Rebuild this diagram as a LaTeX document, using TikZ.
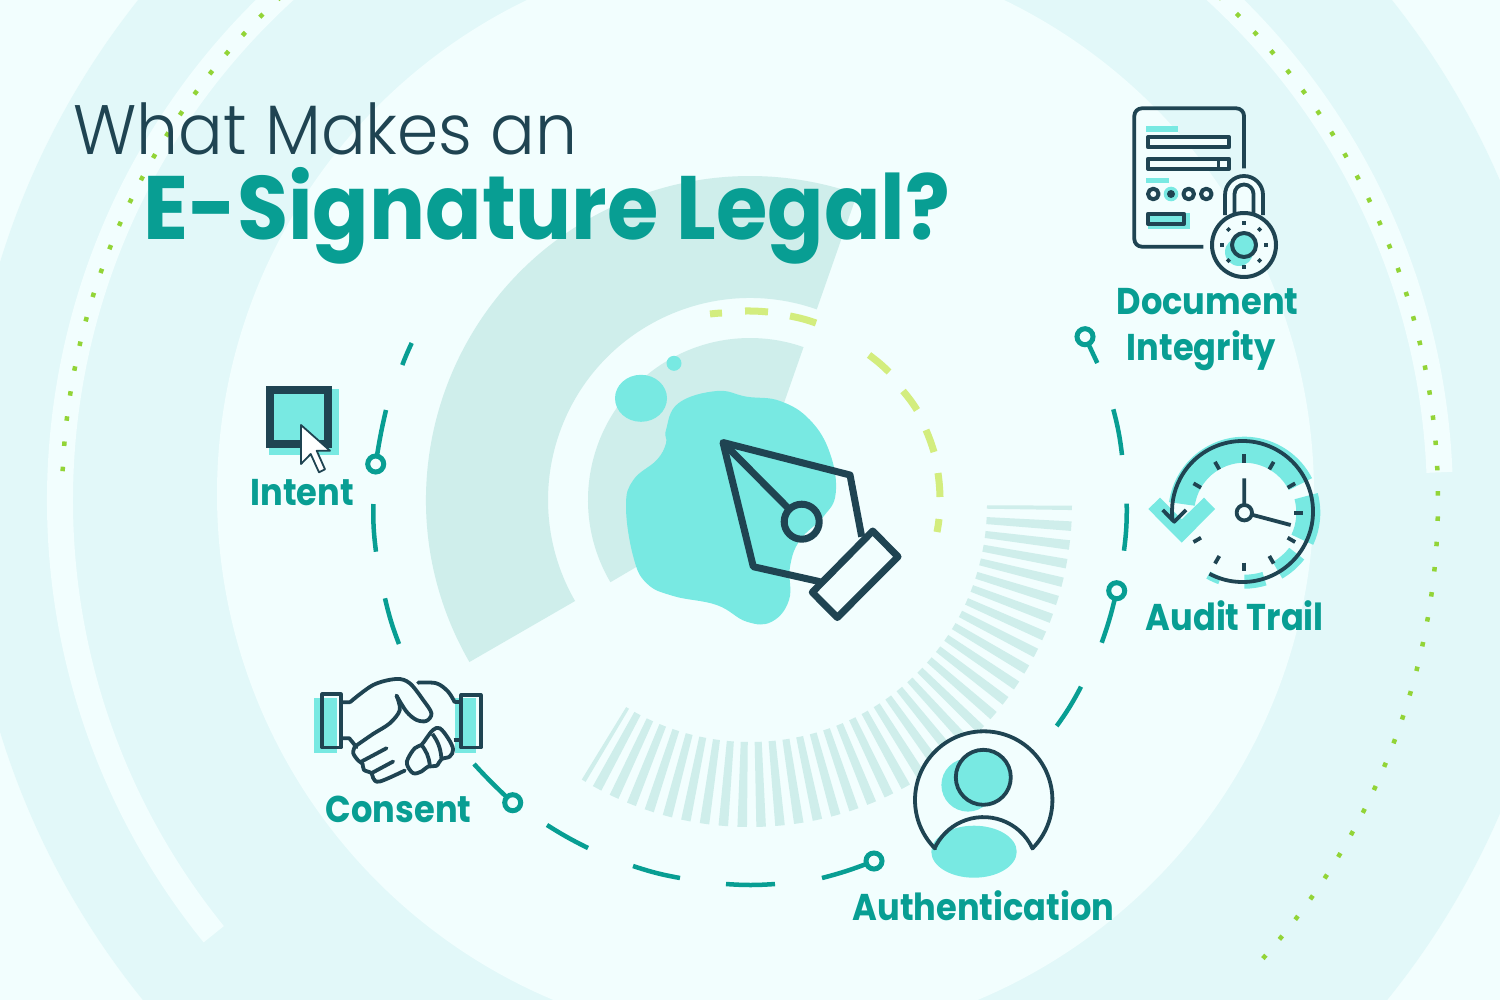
\documentclass[tikz,border=0pt]{standalone}
\usepackage{fontspec}
\setmainfont{Poppins}[UprightFont=* Light,BoldFont=* Bold]
\usepackage{tikz}
\definecolor{basecol}{HTML}{F2FEFE}
\definecolor{bandcol}{HTML}{E2F8F9}
\definecolor{sectorcol}{HTML}{CFEEEB}
\definecolor{aquacol}{HTML}{78E9E2}
\definecolor{navycol}{HTML}{1F4452}
\definecolor{tealcol}{HTML}{089E93}
\definecolor{dotcol}{HTML}{92D437}
\definecolor{limecol}{HTML}{D3ED7E}
\tikzset{
  iconline/.style={navycol,line width=0.038cm,line join=round},
  ringdash/.style={tealcol,line width=0.045cm},
  limedash/.style={limecol,line width=0.07cm},
  dotline/.style={dotcol,line width=0.045cm,dash pattern=on 0.045cm off 0.208cm},
  pinnode/.style={circle,draw=tealcol,line width=0.05cm,fill=basecol,minimum size=0.16cm,inner sep=0pt,outer sep=0pt},
  lbl/.style={tealcol,anchor=base west,inner sep=0pt,font=\fontsize{10.6}{12}\selectfont\bfseries}
}
\newcommand{\drawwedge}[6]{
  \fill[#6] ([shift={(#2:#5)}]#1) arc (#2:#3:#5) -- ([shift={(#3:#4)}]#1) arc (#3:#2:#4) -- cycle;
}
\newcommand{\lbltext}[1]{\scalebox{0.903}[1]{#1}}
\begin{document}
\begin{tikzpicture}[x=0.01cm,y=-0.01cm]
  \useasboundingbox (0,0) rectangle (1500,1000);
  \clip (0,0) rectangle (1500,1000);
  \fill[basecol] (0,0) rectangle (1500,1000);
  \coordinate (ctr) at (750,500);

  % background rings
  \fill[bandcol] (765,497) circle (800);
  \draw[basecol,line width=0.26cm] ([shift={(141:690)}]ctr) arc (141:357.7:690);
  \fill[basecol] (765.5,494) circle (548.5);
  \draw[dotline] ([shift={(182.4:688)}]ctr) arc (182.4:240:688);
  \draw[dotline] ([shift={(41.8:688)}]ctr) arc (41.8:-60:688);

  % sectors and stripes
  \drawwedge{750,500}{150}{289.3}{202}{324}{sectorcol}
  \fill[sectorcol] (ctr) -- ([shift={(149.5:162)}]ctr) arc (149.5:289.3:162) -- cycle;
  \drawwedge{750,505}{0.1}{0.9}{237}{322}{sectorcol}
  \foreach \k in {1,...,35} {
    \pgfmathsetmacro{\ang}{0.4+3.37*\k}
    \drawwedge{750,505}{\ang-0.85}{\ang+0.85}{237}{322}{sectorcol}
  }
  \drawwedge{750,505}{120.7}{121.5}{237}{322}{sectorcol}

  % pen
  \fill[aquacol] plot[smooth cycle,tension=0.7] coordinates {(666,430) (678.3,403.3) (716.7,391) (746.7,396.7) (780,401) (810,420) (830,453.3) (835.7,493.3) (823.3,516.7) (800,540) (790,566.7) (789,600) (771.7,621.7) (746.7,621.7) (716.7,605) (673.3,596) (646.7,583.3) (633.3,556.7) (626,506.7) (633.3,480) (656.7,460) (666,443.3)};
  \fill[aquacol] (641,398.3) ellipse (26 and 23.5);
  \fill[aquacol] (674,363.3) circle (7.5);
  \begin{scope}[navycol,line width=0.07cm,line join=round]
    \draw (820,581.7) -- (753.3,566.7) -- (723,442.5) -- (850,475) -- (861.7,536.7);
    \draw (723,442.5) -- (789,509);
    \draw (801.7,521.7) circle (17.5);
    \draw[fill=basecol] (872.7,531) -- (898,556.7) -- (837.3,617.5) -- (812.3,592.3) -- cycle;
  \end{scope}

  % inner dashes
  \draw[limedash] (710,314) to[bend left=2] (722,313);
  \draw[limedash] (745,311) to[bend left=3] (768,312);
  \draw[limedash] (790,316) to[bend left=4] (816,323);
  \draw[limedash] (869,355) to[bend left=4] (889,372);
  \draw[limedash] (903,391) to[bend left=4] (917,410);
  \draw[limedash] (926,430) to[bend left=3] (934,452);
  \draw[limedash] (938,473) to[bend left=3] (940,497);
  \draw[limedash] (939,519) to[bend left=2] (937,532);

  % outer dashes and pins
  \node[pinnode] (intentpin) at (375.7,464) {};
  \node[pinnode] (consentpin) at (512.7,802.7) {};
  \node[pinnode] (authpin) at (874,861) {};
  \node[pinnode] (auditpin) at (1116.7,590.7) {};
  \node[pinnode] (docpin) at (1085,336.7) {};
  \draw[ringdash] (411.7,343) to[bend right=2] (402.3,365);
  \draw[ringdash] (386,410) to[bend right=2] (intentpin);
  \draw[ringdash] (373.3,504) to[bend right=4] (376,551.7);
  \draw[ringdash] (385,598.3) to[bend right=4] (399,644);
  \draw[ringdash] (474,764) to[bend right=2] (consentpin);
  \draw[ringdash] (547,825) to[bend right=3] (588,848);
  \draw[ringdash] (633,866) to[bend right=4] (680,878);
  \draw[ringdash] (726,884) to[bend right=4] (775,884);
  \draw[ringdash] (822,878) to[bend right=3] (authpin);
  \draw[ringdash] (1056.7,726) to[bend right=4] (1081,686.7);
  \draw[ringdash] (1101.7,642.7) to[bend right=3] (auditpin);
  \draw[ringdash] (1124,550.7) to[bend right=4] (1126.7,503.7);
  \draw[ringdash] (1122,455) to[bend right=4] (1113.3,409.3);
  \draw[ringdash] (1097.3,363) -- (docpin);

  % intent
  \fill[aquacol] (269,389.3) rectangle (339,455.3);
  \draw[navycol,line width=0.08cm,fill=aquacol] (270,390) rectangle (327.7,444.3);
  \draw[navycol,line width=0.018cm,fill=white,line join=round] (301,425) -- (301,464) -- (310.7,454) -- (319,472.3) -- (325,469.3) -- (316.7,450.7) -- (330,450.7) -- cycle;

  % consent
  \begin{scope}[shift={(290,660)},x=0.003333cm,y=-0.003333cm]
    \fill[aquacol] (72,115) rectangle (140,278);
    \fill[aquacol] (497,115) rectangle (558,278);
    \draw[iconline] (97,103) rectangle (153,263);
    \draw[iconline] (515,105) rectangle (573,263);
    \draw[iconline,line cap=round] (158,127) -- (180,127) plot[smooth,tension=0.55] coordinates {(180,127) (250,75) (320,57) (360,70) (400,120) (425,160) (410,183) (380,180) (350,155) (320,107)};
    \draw[iconline,line cap=round] plot[smooth,tension=0.55] coordinates {(320,107) (330,150) (300,190) (250,222) (195,260)};
    \draw[iconline,line cap=round] (158,235) -- (178,235) -- (200,262);
    \draw[iconline,line cap=round] plot[smooth,tension=0.6] coordinates {(195,260) (190,280) (205,302) (218,312) (222,330) (245,340) (250,355) (270,365) (345,332)};
    \draw[iconline,line cap=round] (215,305) -- (290,265);
    \draw[iconline,line cap=round] (245,340) -- (310,305);
    \draw[iconline,line cap=round] plot[smooth,tension=0.55] coordinates {(385,68) (440,70) (475,95) (495,127)};
    \draw[iconline] (495,127) -- (510,127);
    \draw[iconline] (492,240) -- (510,240);
    \draw[iconline] plot[smooth cycle,tension=0.6] coordinates {(355,295) (375,265) (395,255) (410,235) (430,210) (450,205) (475,235) (490,268) (480,290) (455,298) (440,318) (415,320) (395,335) (370,340) (352,315)};
    \draw[iconline] (395,255) to[bend left=15] (420,315);
    \draw[iconline] (428,222) to[bend left=15] (455,295);
  \end{scope}

  % authentication
  \fill[basecol] ([shift={(135:68.7)}]983.7,800) arc (135:405:68.7) -- ([shift={(-25:53.9)}]983.5,871) arc (-25:-155:53.9) -- cycle;
  \fill[aquacol] (974,851.7) ellipse (42.7 and 26);
  \fill[aquacol] (968,785) circle (26.6);
  \draw[iconline,fill=aquacol] (983.3,777.3) circle (27.5);
  \draw[iconline] ([shift={(135:68.7)}]983.7,800) arc (135:405:68.7) -- ([shift={(-25:53.9)}]983.5,871) arc (-25:-155:53.9) -- cycle;

  % audit trail
  \coordinate (clk) at (1244.3,512.7);
  \drawwedge{1244.3,512.7}{-172}{-27}{50}{76}{aquacol}
  \drawwedge{1244.3,512.7}{-15}{25}{52}{76}{aquacol}
  \drawwedge{1244.3,512.7}{38}{60}{57}{76}{aquacol}
  \drawwedge{1244.3,512.7}{73}{90}{62}{76}{aquacol}
  \drawwedge{1244.3,512.7}{110}{120}{68}{76}{aquacol}
  \fill[aquacol] (1148.3,509) -- (1160,497.7) -- (1181.7,519.3) -- (1204,497.7) -- (1215,509) -- (1181.7,542.7) -- cycle;
  \foreach \ang in {-90,-60,-30,0,30,60,90,120,150,210,240} {
    \draw[iconline] ([shift={(\ang:50)}]clk) -- ([shift={(\ang:58.7)}]clk);
  }
  \draw[iconline] ([shift={(118:70.5)}]1242.5,511.5) arc (118:-188:70.5);
  \draw[iconline] (1162.7,510) -- (1174.3,521.7) -- (1186,510);
  \draw[iconline] (1244.3,478.3) -- (clk) -- (1290.7,525);
  \draw[iconline,fill=basecol] (clk) circle (7.7);

  % document integrity
  \draw[iconline] (1244,168.3) -- (1244,116) arc (0:-90:7.7) -- (1142,108.3) arc (270:180:7.7) -- (1134.3,239) arc (180:90:7.7) -- (1203.3,246.7);
  \fill[aquacol] (1146,126) rectangle (1178,131.7);
  \draw[iconline,line width=0.04cm,fill=basecol] (1148,137) rectangle (1229,147.3);
  \draw[iconline,line width=0.04cm,fill=basecol] (1148,158.7) rectangle (1229,169);
  \draw[iconline,line width=0.03cm] (1218.3,158.7) -- (1218.3,169);
  \fill[aquacol] (1146,177.7) rectangle (1169.3,183.3);
  \draw[iconline,line width=0.04cm] (1153.3,194) circle (5.3);
  \fill[aquacol] (1171,194) circle (7.3);
  \fill[navycol] (1171,194) circle (4);
  \draw[iconline,line width=0.04cm] (1188.7,194) circle (5.3);
  \draw[iconline,line width=0.04cm] (1206.3,194) circle (5.3);
  \fill[aquacol] (1148.3,212.7) rectangle (1190,229.3);
  \draw[iconline,line width=0.04cm,fill=aquacol] (1148,213.7) rectangle (1184,224);
  \coordinate (lock) at (1244,245);
  \draw[iconline,fill=basecol] (1225,215) -- (1225,195) arc (180:360:19) -- (1263,215);
  \draw[iconline] (1234.5,215) -- (1234.5,194) arc (180:360:9.5) -- (1253.5,215);
  \draw[iconline,line width=0.04cm,fill=basecol] (lock) circle (32);
  \fill[aquacol] (1239,252) circle (14);
  \draw[iconline,line width=0.04cm,fill=aquacol] (lock) circle (12);
  \foreach \ang in {0,45,...,315} {
    \draw[iconline] ([shift={(\ang:20.3)}]lock) -- ([shift={(\ang:23.7)}]lock);
  }

  % texts
  \node[navycol,anchor=base west,inner sep=0pt,font=\fontsize{19.9}{24}\selectfont] (titlea) at (73,154) {\scalebox{0.947}[1]{What Makes an}};
  \node[tealcol,anchor=base west,inner sep=0pt,font=\fontsize{25.6}{30}\selectfont\bfseries] (titleb) at (143,239) {\scalebox{0.925}[1]{E-Signature Legal?}};
  \node[lbl] (intentlbl) at (250,505) {\lbltext{Intent}};
  \node[lbl] (consentlbl) at (325,822.7) {\lbltext{Consent}};
  \node[lbl] (authlbl) at (852,920.7) {\lbltext{Authentication}};
  \node[lbl] (auditlbl) at (1145,630) {\lbltext{Audit Trail}};
  \node[lbl] (doclbl) at (1116,314) {\lbltext{Document}};
  \node[lbl] (integlbl) at (1126,360.7) {\lbltext{Integrity}};
\end{tikzpicture}
\end{document}
